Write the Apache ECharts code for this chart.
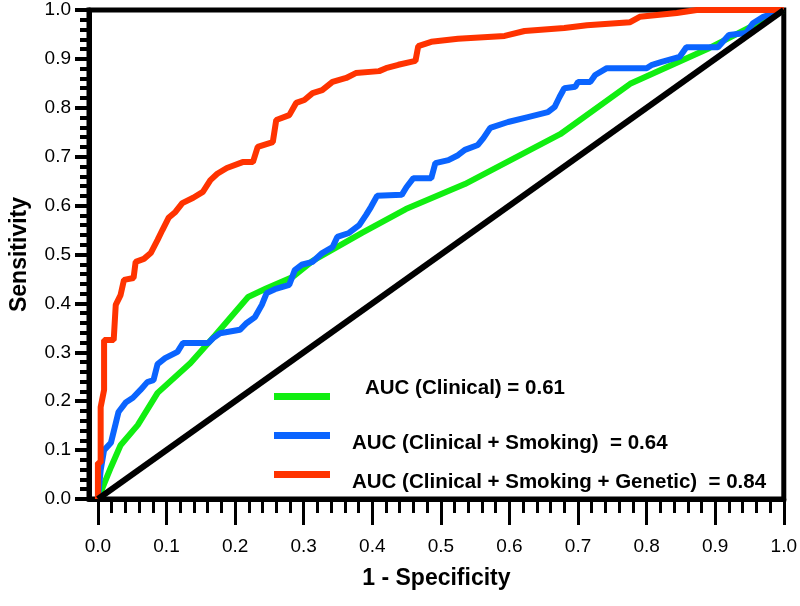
<!DOCTYPE html>
<html><head><meta charset="utf-8">
<script src="https://cdn.jsdelivr.net/npm/echarts@6/dist/echarts.min.js"></script>
<style>html,body{margin:0;padding:0;background:#fff}#c{width:800px;height:606px}</style>
</head><body><div id="c"></div>
<script>
// Tick values
const xMajorTicks = [0, 0.1, 0.2, 0.3, 0.4, 0.5, 0.6, 0.7, 0.8, 0.9, 1.0];
const xMinorTicks = [0.02, 0.04, 0.06, 0.08, 0.12, 0.14, 0.16, 0.18, 0.22, 0.24, 0.26, 0.28,
  0.32, 0.34, 0.36, 0.38, 0.42, 0.44, 0.46, 0.48, 0.52, 0.54, 0.56, 0.58, 0.62, 0.64, 0.66, 0.68,
  0.72, 0.74, 0.76, 0.78, 0.82, 0.84, 0.86, 0.88, 0.92, 0.94, 0.96, 0.98];

const seriesNames = [
  'AUC (Clinical) = 0.61',
  'AUC (Clinical + Smoking)  = 0.64',
  'AUC (Clinical + Smoking + Genetic)  = 0.84'
];

// Clinical (green)
const clinicalFpr = [0, 0.019, 0.033, 0.058, 0.087, 0.135, 0.171, 0.219, 0.246, 0.284, 0.313, 0.385, 0.449, 0.535, 0.674, 0.776, 0.891, 1.0];
const clinicalTpr = [0, 0.065, 0.110, 0.151, 0.217, 0.278, 0.335, 0.413, 0.431, 0.454, 0.487, 0.544, 0.593, 0.644, 0.746, 0.849, 0.922, 1.0];

// Clinical + Smoking (blue)
const smokingFpr = [0, 0.004, 0.009, 0.019, 0.026, 0.030, 0.041, 0.051, 0.062, 0.072, 0.081, 0.087, 0.098, 0.116, 0.124, 0.161, 0.168, 0.178, 0.207, 0.217, 0.229, 0.239, 0.246, 0.258, 0.279, 0.287, 0.297, 0.313, 0.327, 0.342, 0.349, 0.366, 0.381, 0.391, 0.398, 0.407, 0.443, 0.450, 0.460, 0.486, 0.492, 0.511, 0.525, 0.535, 0.554, 0.562, 0.572, 0.598, 0.627, 0.656, 0.666, 0.673, 0.680, 0.696, 0.700, 0.718, 0.725, 0.742, 0.800, 0.808, 0.822, 0.848, 0.858, 0.904, 0.920, 0.945, 0.955, 0.970, 1.0];
const smokingTpr = [0, 0.059, 0.100, 0.115, 0.155, 0.178, 0.198, 0.207, 0.223, 0.239, 0.243, 0.276, 0.288, 0.301, 0.319, 0.319, 0.329, 0.339, 0.346, 0.360, 0.372, 0.397, 0.421, 0.429, 0.438, 0.468, 0.479, 0.485, 0.503, 0.515, 0.536, 0.544, 0.560, 0.581, 0.597, 0.620, 0.622, 0.638, 0.656, 0.656, 0.687, 0.693, 0.703, 0.714, 0.724, 0.738, 0.759, 0.771, 0.781, 0.791, 0.802, 0.822, 0.840, 0.843, 0.853, 0.853, 0.867, 0.881, 0.881, 0.888, 0.894, 0.904, 0.924, 0.924, 0.949, 0.953, 0.973, 0.986, 1.0];

// Clinical + Smoking + Genetic (red)
const geneticFpr = [0, 0, 0.004, 0.004, 0.009, 0.009, 0.023, 0.026, 0.033, 0.038, 0.052, 0.055, 0.067, 0.077, 0.087, 0.094, 0.103, 0.113, 0.123, 0.139, 0.153, 0.164, 0.174, 0.188, 0.211, 0.226, 0.233, 0.255, 0.260, 0.279, 0.289, 0.301, 0.313, 0.327, 0.342, 0.362, 0.376, 0.410, 0.420, 0.438, 0.463, 0.467, 0.486, 0.525, 0.593, 0.622, 0.680, 0.713, 0.776, 0.790, 0.844, 0.873, 1.0];
const geneticTpr = [0, 0.074, 0.074, 0.188, 0.223, 0.325, 0.325, 0.397, 0.417, 0.448, 0.452, 0.485, 0.491, 0.503, 0.530, 0.550, 0.575, 0.587, 0.605, 0.616, 0.628, 0.652, 0.665, 0.677, 0.689, 0.689, 0.720, 0.730, 0.775, 0.785, 0.810, 0.816, 0.830, 0.836, 0.853, 0.861, 0.871, 0.875, 0.881, 0.888, 0.896, 0.926, 0.935, 0.941, 0.947, 0.957, 0.963, 0.969, 0.975, 0.986, 0.994, 1.0, 1.0];

// Reference (chance) line
const chanceFpr = [0, 1];
const chanceTpr = [0, 1];

const FONT = '"Liberation Sans", Arial, Helvetica, sans-serif';
const zip = (a, b) => a.map((v, i) => [v, b[i]]);

const chart = echarts.init(document.getElementById('c'));

// up: text line sits above the legend stroke; otherwise below
function legendFor(i, top, padLeft, up) {
  return {
    data: [seriesNames[i]], left: 274, top: top, padding: 0, orient: 'horizontal',
    itemWidth: 56, itemHeight: 7, icon: 'rect', selectedMode: false,
    formatter: n => up ? n + '\n' : '\n' + n,
    textStyle: {fontSize: 20.5, fontWeight: 'bold', fontFamily: FONT, color: '#000', lineHeight: 16, padding: [0, 0, 0, padLeft]}
  };
}

const option = {
  animation: false,
  backgroundColor: '#fff',
  grid: {left: 88, right: 12, top: 10, bottom: 107, show: true, borderColor: '#000', borderWidth: 5, backgroundColor: 'transparent'},
  legend: [
    legendFor(0, 378, 30, true),
    legendFor(1, 417, 17, false),
    legendFor(2, 456, 17, false)
  ],
  xAxis: [{
    type: 'value', min: -0.013, max: 1, position: 'bottom',
    axisLine: {show: true, onZero: false, lineStyle: {color: '#000', width: 5}},
    axisTick: {show: true, customValues: xMajorTicks, length: 26, lineStyle: {color: '#000', width: 3}},
    axisLabel: {show: true, customValues: xMajorTicks, formatter: v => v.toFixed(1), fontSize: 19, color: '#000', margin: 14, padding: [24, 0, 0, 0], fontFamily: FONT},
    splitLine: {show: false},
    name: '1 - Specificity', nameLocation: 'middle', nameGap: 68,
    nameTextStyle: {fontSize: 23, fontWeight: 'bold', color: '#000', fontFamily: FONT}
  }, {
    type: 'value', min: -0.013, max: 1, position: 'bottom',
    axisLine: {show: false, onZero: false},
    axisTick: {show: true, customValues: xMinorTicks, length: 14, lineStyle: {color: '#000', width: 3}},
    axisLabel: {show: false},
    splitLine: {show: false}
  }, {
    // anchor axis: its zero sits on the frame's left edge, used to place the y axes there
    type: 'value', min: 0, max: 1, position: 'bottom',
    axisLine: {show: false, onZero: false}, axisTick: {show: false}, axisLabel: {show: false}, splitLine: {show: false}
  }],
  yAxis: [{
    type: 'value', min: 0, max: 1, interval: 0.1, position: 'left',
    axisLine: {show: true, onZero: true, onZeroAxisIndex: 2, lineStyle: {color: '#000', width: 5}},
    axisTick: {show: true, length: 14, lineStyle: {color: '#000', width: 4}},
    minorTick: {show: true, splitNumber: 5, length: 9, lineStyle: {color: '#000', width: 4}},
    axisLabel: {formatter: v => v.toFixed(1), fontSize: 19, color: '#000', margin: 18, fontFamily: FONT},
    splitLine: {show: false}, minorSplitLine: {show: false},
    name: 'Sensitivity', nameLocation: 'middle', nameGap: 58,
    nameTextStyle: {fontSize: 23, fontWeight: 'bold', color: '#000', fontFamily: FONT}
  }, {
    type: 'value', min: 0, max: 1, interval: 0.1, position: 'left',
    axisLine: {show: false, onZero: true, onZeroAxisIndex: 2},
    axisTick: {show: true, length: 14, lineStyle: {color: '#000', width: 4}},
    minorTick: {show: true, splitNumber: 5, length: 9, lineStyle: {color: '#000', width: 4}},
    axisLabel: {show: false},
    splitLine: {show: false}, minorSplitLine: {show: false}
  }],
  series: [
    {name: seriesNames[0], type: 'line', data: zip(clinicalFpr, clinicalTpr), symbol: 'none', color: '#11ee11', lineStyle: {width: 6, color: '#11ee11'}},
    {name: seriesNames[1], type: 'line', data: zip(smokingFpr, smokingTpr), symbol: 'none', color: '#0a64ff', lineStyle: {width: 6, color: '#0a64ff'}},
    {name: seriesNames[2], type: 'line', data: zip(geneticFpr, geneticTpr), symbol: 'none', color: '#ff3300', lineStyle: {width: 6, color: '#ff3300'}},
    {name: 'Chance', type: 'line', data: zip(chanceFpr, chanceTpr), symbol: 'none', color: '#000', lineStyle: {width: 6, color: '#000'}}
  ]
};
chart.setOption(option);
</script></body></html>
